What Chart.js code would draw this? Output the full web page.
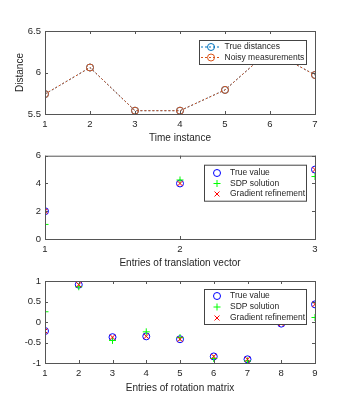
<!DOCTYPE html>
<html>
<head>
<meta charset="utf-8">
<script src="https://cdn.jsdelivr.net/npm/chart.js@4.4.0/dist/chart.umd.min.js"></script>
<style>
    body { margin: 0; background: #fff; width: 349px; height: 416px; position: relative; overflow: hidden; }
    canvas { position: absolute; left: 0; }
</style>
</head>
<body>
<canvas id="grafica1" width="349" height="146" style="top:0px"></canvas>
<canvas id="grafica2" width="349" height="125" style="top:146px"></canvas>
<canvas id="grafica3" width="349" height="125" style="top:271px"></canvas>
<script>
// datos
const instantes = [1, 2, 3, 4, 5, 6, 7]
const distReales = [5.74, 6.06, 5.54, 5.54, 5.79, 6.27, 5.97]
const distRuidosas = [5.74, 6.06, 5.54, 5.54, 5.79, 6.27, 5.97]

const indTraslacion = [1, 2, 3]
const trasReal = [2, 4, 5]
const trasSdp = [1.05, 4.25, 4.5]
const trasGradiente = [2, 4, 5]

const indRotacion = [1, 2, 3, 4, 5, 6, 7, 8, 9]
const rotReal = [-0.22, 0.91, -0.37, -0.35, -0.42, -0.84, -0.91, -0.04, 0.43]
const rotSdp = [0.25, 0.86, -0.45, -0.24, -0.38, -0.89, -0.95, 0.02, 0.11]
const rotGradiente = [-0.22, 0.91, -0.37, -0.35, -0.42, -0.84, -0.91, -0.04, 0.43]

const colorTexto = '#262626'
const fuente = '"Liberation Sans", Arial, sans-serif'

Chart.defaults.font.family = fuente
Chart.defaults.color = colorTexto
Chart.defaults.animation = false

function puntos(xs, ys) {
    return xs.map((x, i) => ({ x: x, y: ys[i] }))
}

// etiquetas sin ceros de relleno, como matlab
function etiqueta(v) {
    return String(+v.toFixed(2))
}

// caja estilo matlab con ticks hacia dentro y leyenda dentro del area
const marcoMatlab = {
    id: 'marcoMatlab',
    afterDatasetsDraw(chart, args, opts) {
        const { ctx, chartArea: a, scales } = chart
        ctx.save()
        ctx.strokeStyle = '#555'
        ctx.lineWidth = 1
        ctx.strokeRect(a.left + 0.5, a.top + 0.5, a.right - a.left, a.bottom - a.top)
        ctx.beginPath()
        for (const t of scales.x.ticks) {
            const px = Math.round(scales.x.getPixelForValue(t.value)) + 0.5
            ctx.moveTo(px, a.bottom); ctx.lineTo(px, a.bottom - 3)
            ctx.moveTo(px, a.top); ctx.lineTo(px, a.top + 3)
        }
        for (const t of scales.y.ticks) {
            const py = Math.round(scales.y.getPixelForValue(t.value)) + 0.5
            ctx.moveTo(a.left, py); ctx.lineTo(a.left + 3, py)
            ctx.moveTo(a.right, py); ctx.lineTo(a.right - 3, py)
        }
        ctx.stroke()

        // leyenda
        const x0 = a.left + opts.left
        const y0 = a.top + opts.top
        ctx.fillStyle = '#fff'
        ctx.fillRect(x0, y0, opts.width, opts.height)
        ctx.strokeStyle = '#444'
        ctx.strokeRect(x0 + 0.5, y0 + 0.5, opts.width, opts.height)
        ctx.font = '8.5px ' + fuente
        ctx.textBaseline = 'middle'
        ctx.textAlign = 'left'
        chart.data.datasets.forEach((ds, i) => {
            const yy = y0 + opts.firstRow + i * opts.rowH
            if (ds.showLine) {
                ctx.strokeStyle = ds.borderColor
                ctx.setLineDash(ds.borderDash)
                ctx.beginPath()
                ctx.moveTo(x0 + opts.lineFrom, yy)
                ctx.lineTo(x0 + opts.lineTo, yy)
                ctx.stroke()
                ctx.setLineDash([])
            }
            ctx.strokeStyle = ds.pointBorderColor
            ctx.fillStyle = 'rgba(0,0,0,0)'
            Chart.helpers.drawPoint(ctx, { pointStyle: ds.pointStyle, radius: ds.pointRadius, borderWidth: 1, rotation: 0 }, x0 + opts.markerX, yy)
            ctx.fillStyle = colorTexto
            ctx.fillText(ds.label, x0 + opts.textX, yy)
        })
        ctx.restore()
    }
}

function escalas(xmin, xmax, xpaso, ymin, ymax, ypaso, tituloX, tituloY, altoX) {
    return {
        x: {
            type: 'linear', min: xmin, max: xmax,
            ticks: { stepSize: xpaso, padding: 5, font: { size: 9.5 }, maxRotation: 0, autoSkip: false, color: colorTexto, callback: etiqueta },
            grid: { display: false, drawTicks: false },
            border: { display: false },
            title: { display: true, text: tituloX, font: { size: 10 }, color: colorTexto, padding: { top: 0, bottom: 2 } },
            afterFit(s) { s.height = altoX }
        },
        y: {
            type: 'linear', min: ymin, max: ymax,
            ticks: { stepSize: ypaso, padding: 4, font: { size: 9.5 }, color: colorTexto, callback: etiqueta },
            grid: { display: false, drawTicks: false },
            border: { display: false },
            title: { display: !!tituloY, text: tituloY || '', font: { size: 10 }, color: colorTexto, padding: { top: 14, bottom: 0 } },
            afterFit(s) { s.width = 45 }
        }
    }
}

function serieMarcador(label, xs, ys, estilo, color, orden) {
    return {
        label: label, data: puntos(xs, ys), showLine: false,
        pointStyle: estilo, pointRadius: 3.5, pointBorderWidth: 1,
        pointBorderColor: color, pointBackgroundColor: 'rgba(0,0,0,0)',
        borderColor: color, order: orden
    }
}

function serieLinea(label, xs, ys, color, orden) {
    return {
        label: label, data: puntos(xs, ys), showLine: true,
        borderColor: color, borderWidth: 1, borderDash: [2, 2],
        pointStyle: 'circle', pointRadius: 3.5, pointBorderWidth: 1,
        pointBorderColor: color, pointBackgroundColor: 'rgba(0,0,0,0)', order: orden
    }
}

function opcionesBase(padTop, esc, leyenda) {
    return {
        responsive: false,
        devicePixelRatio: 1,
        events: [],
        layout: { padding: { top: padTop, left: 0, right: 34, bottom: 0 } },
        scales: esc,
        plugins: { legend: { display: false }, tooltip: { enabled: false }, marcoMatlab: leyenda }
    }
}

new Chart(document.getElementById('grafica1'), {
    type: 'scatter',
    data: {
        datasets: [
            serieLinea('True distances', instantes, distReales, '#0072BD', 1),
            serieLinea('Noisy measurements', instantes, distRuidosas, '#D95319', 0)
        ]
    },
    options: opcionesBase(31, escalas(1, 7, 1, 5.5, 6.5, 0.5, 'Time instance', 'Distance', 32),
        { left: 154, top: 9, width: 107, height: 24, firstRow: 7, rowH: 10.5, lineFrom: 2, lineTo: 21, markerX: 12, textX: 25.5 }),
    plugins: [marcoMatlab]
})

new Chart(document.getElementById('grafica2'), {
    type: 'scatter',
    data: {
        datasets: [
            serieMarcador('True value', indTraslacion, trasReal, 'circle', '#0000FF', 2),
            serieMarcador('SDP solution', indTraslacion, trasSdp, 'cross', '#00FF00', 1),
            serieMarcador('Gradient refinement', indTraslacion, trasGradiente, 'crossRot', '#FF0000', 0)
        ]
    },
    options: opcionesBase(9, escalas(1, 3, 1, 0, 6, 2, 'Entries of translation vector', null, 32),
        { left: 159, top: 9, width: 102, height: 36, firstRow: 8.3, rowH: 10.5, markerX: 13, textX: 26 }),
    plugins: [marcoMatlab]
})

new Chart(document.getElementById('grafica3'), {
    type: 'scatter',
    data: {
        datasets: [
            serieMarcador('True value', indRotacion, rotReal, 'circle', '#0000FF', 2),
            serieMarcador('SDP solution', indRotacion, rotSdp, 'cross', '#00FF00', 1),
            serieMarcador('Gradient refinement', indRotacion, rotGradiente, 'crossRot', '#FF0000', 0)
        ]
    },
    options: opcionesBase(10, escalas(1, 9, 1, -1, 1, 0.5, 'Entries of rotation matrix', null, 33),
        { left: 159, top: 8, width: 102, height: 35, firstRow: 7, rowH: 11, markerX: 13, textX: 26 }),
    plugins: [marcoMatlab]
})
</script>
</body>
</html>
